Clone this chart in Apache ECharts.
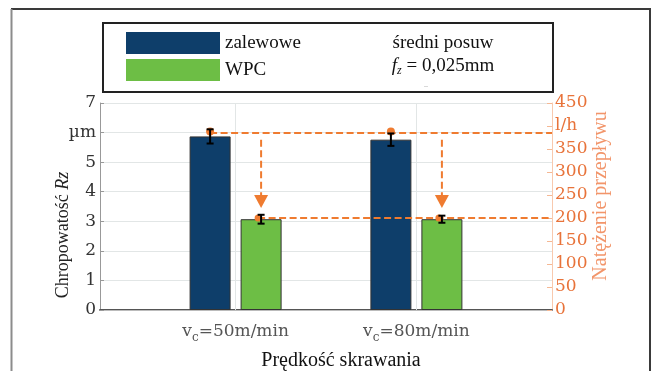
<!DOCTYPE html>
<html>
<head>
<meta charset="utf-8">
<script src="https://cdn.jsdelivr.net/npm/echarts@6/dist/echarts.min.js"></script>
<style>html,body{margin:0;padding:0;background:#fff;}#c{width:653px;height:371px;}</style>
</head>
<body>
<div id="c"></div>
<script>
// ---- data ----
const catPositions = [1, 2];
const catSpeeds = ['50m/min', '80m/min'];
const seriesNames = ['zalewowe', 'WPC'];
const zalewowe = [5.87, 5.76];
const zalewoweErr = [0.24, 0.21];
const wpc = [3.07, 3.07];
const wpcErr = [0.15, 0.12];
const flowZalewowe = [385, 385];   // l/h
const flowWPC = [200, 200];        // l/h
const arrowStart = [370, 370];     // l/h
const arrowEnd = [222, 222];       // l/h
const leftTickSpecial = {6: 'µm'};
const rightTickSpecial = {400: 'l/h'};

// ---- style constants ----
const BAR_W = 41, BAR_GAP = 10;
const OFF = (BAR_W + BAR_GAP) / 2;
const ORANGE = '#EF7B30';
const serif = 'Liberation Serif';
const tickFont = 'DejaVu Serif';

const chart = echarts.init(document.getElementById('c'), null, {renderer: 'canvas'});

function errItem(params, api) {
  const x = api.value(0), v = api.value(1), e = api.value(2), side = api.value(3);
  const top = api.coord([x, v + e]);
  const bot = api.coord([x, v - e]);
  const cx = top[0] + side * OFF;
  const cap = 3.5;
  const st = {stroke: '#000', lineWidth: 2};
  return {type: 'group', children: [
    {type: 'line', shape: {x1: cx, y1: top[1], x2: cx, y2: bot[1]}, style: st},
    {type: 'line', shape: {x1: cx - cap, y1: top[1], x2: cx + cap, y2: top[1]}, style: st},
    {type: 'line', shape: {x1: cx - cap, y1: bot[1], x2: cx + cap, y2: bot[1]}, style: st}
  ]};
}

const flowData = catPositions.map((x, i) => [x, flowZalewowe[i], flowWPC[i], arrowStart[i], arrowEnd[i], i]);
function flowItem(params, api) {
  const x = api.value(0), fz = api.value(1), fw = api.value(2), as = api.value(3), ae = api.value(4), idx = api.value(5);
  const pz = api.coord([x, fz]);
  const pw = api.coord([x, fw]);
  const pa = api.coord([x, as]);
  const pe = api.coord([x, ae]);
  const right = api.coord([2.75, 0])[0];
  const bx = pz[0] - OFF, gx = pz[0] + OFF;
  const dash = {stroke: ORANGE, lineWidth: 2, lineDash: [7, 3.5]};
  const ch = [];
  if (idx === 0) {
    ch.push({type: 'line', shape: {x1: bx, y1: pz[1], x2: right, y2: pz[1]}, style: dash});
    ch.push({type: 'line', shape: {x1: gx - 3, y1: pw[1], x2: right, y2: pw[1]}, style: dash});
  }
  ch.push({type: 'circle', shape: {cx: bx, cy: pz[1] - 1.5, r: 4}, style: {fill: ORANGE}});
  ch.push({type: 'circle', shape: {cx: gx - 3, cy: pw[1], r: 3.5}, style: {fill: ORANGE}});
  const headH = 13, headW = 7;
  ch.push({type: 'line', shape: {x1: gx, y1: pa[1], x2: gx, y2: pe[1] - headH}, style: dash});
  ch.push({type: 'polygon', shape: {points: [[gx - headW, pe[1] - headH], [gx + headW, pe[1] - headH], [gx, pe[1]]]}, style: {fill: ORANGE}});
  return {type: 'group', children: ch};
}

const option = {
  animation: false,
  textStyle: {fontFamily: serif},
  grid: {left: 100, right: 101, top: 103, bottom: 61, containLabel: false},
  legend: {
    data: seriesNames, orient: 'vertical', left: 126, top: 32, padding: 0,
    itemWidth: 94, itemHeight: 22, itemGap: 5, icon: 'rect',
    itemStyle: {borderWidth: 0},
    textStyle: {fontFamily: serif, fontSize: 19, color: '#111', padding: [0, 0, 0, 0]},
    selectedMode: false
  },
  xAxis: [{
    type: 'value', min: 0.25, max: 2.75, position: 'bottom',
    axisLine: {show: true, lineStyle: {color: '#555', width: 2}},
    axisTick: {show: false, customValues: catPositions},
    splitLine: {show: false},
    axisLabel: {
      customValues: catPositions, margin: 9,
      formatter: function (v) {
        const i = catPositions.indexOf(v);
        return i < 0 ? '' : 'v{sub|c}=' + catSpeeds[i];
      },
      fontFamily: tickFont, fontSize: 17, color: '#555',
      rich: {sub: {fontFamily: tickFont, fontSize: 12, color: '#555', padding: [13, 0, 0, 0]}}
    }
  }, {
    type: 'value', min: 0.25, max: 2.75, position: 'top',
    axisLine: {show: true, lineStyle: {color: '#bbb', width: 1}},
    axisTick: {show: false}, axisLabel: {show: false}, splitLine: {show: false}
  }],
  yAxis: [{
    type: 'value', min: 0, max: 7, interval: 1, position: 'left',
    axisLine: {show: true, lineStyle: {color: '#999', width: 1}},
    axisTick: {show: true, inside: true, length: 4, lineStyle: {color: '#999'}},
    splitLine: {show: true, lineStyle: {color: '#e2e6e6'}},
    axisLabel: {
      margin: 4, fontFamily: tickFont, fontSize: 17, color: '#333',
      formatter: v => leftTickSpecial[v] !== undefined ? leftTickSpecial[v] : String(v)
    }
  }, {
    type: 'value', min: 0, max: 450, interval: 50, position: 'right',
    axisLine: {show: true, lineStyle: {color: '#F8C9AE', width: 1}},
    axisTick: {show: true, inside: true, length: 5, lineStyle: {color: '#F5B894'}},
    splitLine: {show: false},
    axisLabel: {
      margin: 3, fontFamily: tickFont, fontSize: 17, color: '#E8733A',
      formatter: v => rightTickSpecial[v] !== undefined ? rightTickSpecial[v] : String(v)
    }
  }],
  series: [{
    name: seriesNames[0], type: 'bar', xAxisIndex: 0, yAxisIndex: 0,
    barWidth: BAR_W, barGap: (BAR_GAP / BAR_W * 100) + '%',
    itemStyle: {color: '#0E3E6A', borderColor: '#333', borderWidth: 1},
    data: catPositions.map((x, i) => [x, zalewowe[i]]), z: 2
  }, {
    name: seriesNames[1], type: 'bar', xAxisIndex: 0, yAxisIndex: 0,
    barWidth: BAR_W, barGap: (BAR_GAP / BAR_W * 100) + '%',
    itemStyle: {color: '#6DBE45', borderColor: '#333', borderWidth: 1},
    data: catPositions.map((x, i) => [x, wpc[i]]), z: 2
  }, {
    type: 'custom', xAxisIndex: 0, yAxisIndex: 1, renderItem: flowItem, clip: false,
    data: flowData, z: 5, silent: true,
    markLine: {
      silent: true, symbol: 'none', label: {show: false}, z: 1,
      lineStyle: {color: '#e2e6e6', width: 1, type: 'solid'},
      data: catPositions.map(x => ({xAxis: x}))
    }
  }, {
    type: 'custom', xAxisIndex: 0, yAxisIndex: 0, renderItem: errItem, clip: false, z: 6, silent: true,
    data: catPositions.map((x, i) => [x, zalewowe[i], zalewoweErr[i], -1])
      .concat(catPositions.map((x, i) => [x, wpc[i], wpcErr[i], 1]))
  }],
  graphic: [
    {type: 'polyline', shape: {points: [[11, 9], [650, 9], [650, 380]]}, style: {fill: 'none', stroke: '#3a3a3a', lineWidth: 2}, z: 0},
    {type: 'line', shape: {x1: 11.5, y1: 9, x2: 11.5, y2: 380}, style: {stroke: '#8c8c8c', lineWidth: 2}, z: 0},
    {type: 'rect', shape: {x: 103, y: 23, width: 450, height: 69}, style: {fill: 'none', stroke: '#222', lineWidth: 2}, z: 10},
    {type: 'text', x: 443, y: 43, style: {text: 'średni posuw', font: '19px "Liberation Serif"', fill: '#111', align: 'center', verticalAlign: 'middle'}},
    {type: 'text', x: 443, y: 66, style: {
      text: '{f|f}{z|z} = 0,025mm', font: '19px "Liberation Serif"', fill: '#111', align: 'center', verticalAlign: 'middle',
      rich: {f: {fontStyle: 'italic', fontFamily: serif, fontSize: 19}, z: {fontStyle: 'italic', fontFamily: serif, fontSize: 12, padding: [9, 0, 0, 0]}}
    }},
    {type: 'text', x: 426, y: 86, style: {text: '–', font: '8px "Liberation Serif"', fill: '#aaa', align: 'center', verticalAlign: 'middle'}},
    {type: 'text', x: 63, y: 235, rotation: Math.PI / 2, style: {
      text: 'Chropowatość {i|Rz}', font: '18px "Liberation Serif"', fill: '#222', align: 'center', verticalAlign: 'middle',
      rich: {i: {fontStyle: 'italic', fontFamily: serif, fontSize: 18}}
    }},
    {type: 'text', x: 601, y: 196, rotation: Math.PI / 2, style: {
      text: 'Natężenie przepływu', font: '20px "Liberation Serif"', fill: '#F2956A', align: 'center', verticalAlign: 'middle'
    }},
    {type: 'text', x: 341, y: 361, style: {
      text: 'Prędkość skrawania', font: '20px "Liberation Serif"', fill: '#111', align: 'center', verticalAlign: 'middle'
    }}
  ]
};
chart.setOption(option);
</script>
</body>
</html>
